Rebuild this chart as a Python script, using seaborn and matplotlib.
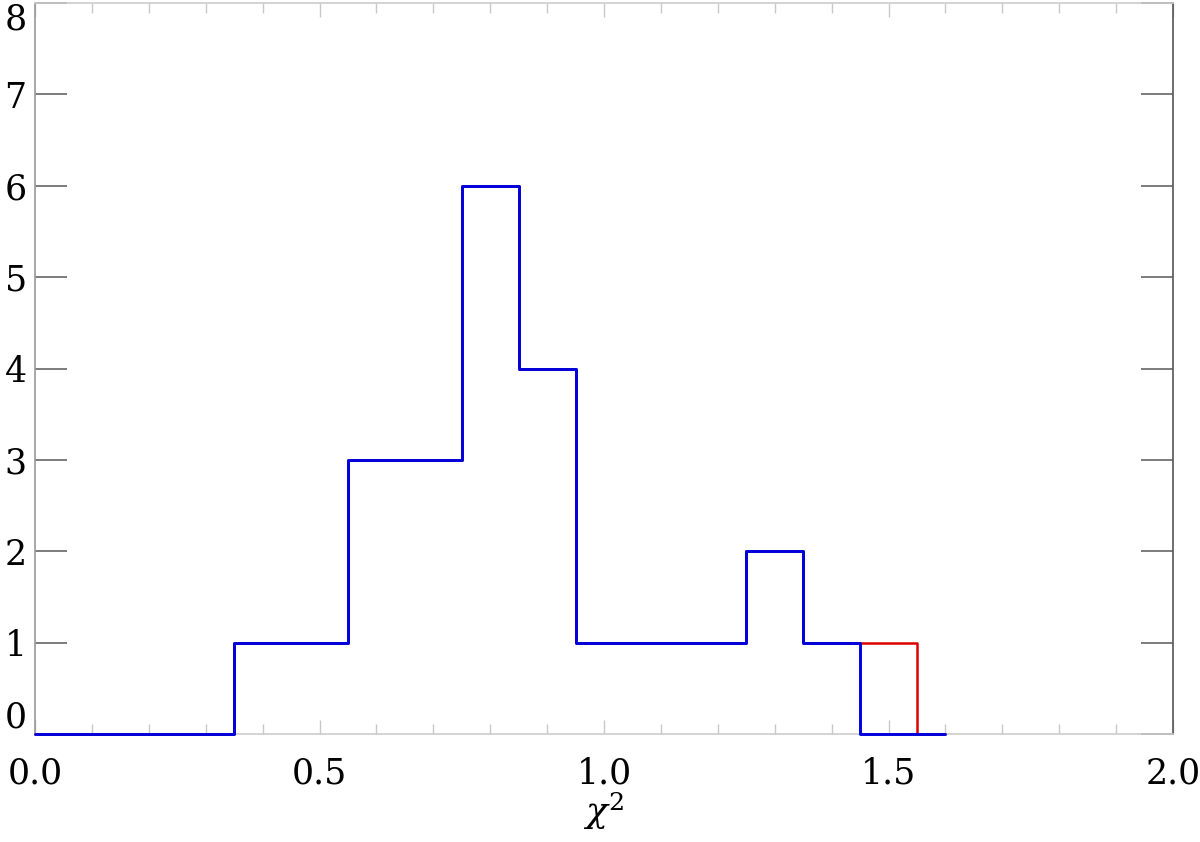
import numpy as np
import seaborn as sns
import matplotlib.pyplot as plt

# histogram values (bin centres every 0.1)
centers = [0.0, 0.1, 0.2, 0.3, 0.4, 0.5, 0.6, 0.7, 0.8, 0.9, 1.0, 1.1, 1.2, 1.3, 1.4, 1.5, 1.6]
counts_blue = [0, 0, 0, 0, 1, 1, 3, 3, 6, 4, 1, 1, 1, 2, 1, 0, 0]
counts_red = [0, 0, 0, 0, 1, 1, 3, 3, 6, 4, 1, 1, 1, 2, 1, 1, 0]
x_ticks = [0.0, 0.5, 1.0, 1.5, 2.0]
y_ticks = [0, 1, 2, 3, 4, 5, 6, 7, 8]
x_label = r'$\chi^2$'


def step_edges(c):
    # idl psym=10 style: half bins at both ends
    c = np.asarray(c, dtype=float)
    mids = (c[:-1] + c[1:]) / 2
    return np.concatenate([[c[0]], mids, [c[-1]]])


sns.set_theme(style='white')
plt.rcParams['font.family'] = ['DejaVu Serif', 'DejaVu Sans']
plt.rcParams['mathtext.fontset'] = 'dejavuserif'

fig = plt.figure(figsize=(12, 8.42), dpi=100)
ax = fig.add_axes([35 / 1200, 108 / 842, 1138 / 1200, 731 / 842])

# red first, blue drawn over it (slightly wider so no red fringe shows)
for counts, col, lw, z in [(counts_red, '#dd0000', 1.8, 5), (counts_blue, '#0000dd', 2.1, 6)]:
    xs = step_edges(centers)
    ys = list(counts) + [counts[-1]]
    sns.lineplot(x=xs, y=ys, drawstyle='steps-post', color=col, lw=lw,
                 estimator=None, sort=False, ax=ax, clip_on=False, zorder=z)

ax.set_xlim(0, 2)
ax.set_ylim(0, 8)
ax.set_xticks(x_ticks)
ax.set_xticklabels([f'{t:.1f}' for t in x_ticks])
ax.set_xticks(np.arange(0, 2.001, 0.1), minor=True)
ax.set_yticks(y_ticks)
ax.set_yticklabels([str(t) for t in y_ticks])

ax.tick_params(axis='x', which='major', direction='in', length=10, width=1,
               color='#c8c8c8', top=True, bottom=True, labelsize=25,
               labelcolor='black', pad=16)
ax.tick_params(axis='x', which='minor', direction='in', length=7, width=1,
               color='#c8c8c8', top=True, bottom=True)
ax.tick_params(axis='y', which='major', direction='in', length=23, width=1.2,
               color='#666666', left=True, right=True, labelsize=25,
               labelcolor='black', pad=6)

for lab in ax.get_yticklabels():
    if lab.get_text() == '8':
        lab.set_va('top')
    elif lab.get_text() == '0':
        lab.set_va('bottom')

ax.spines['left'].set_color('#999999')
ax.spines['right'].set_color('#555555')
ax.spines['top'].set_color('#cccccc')
ax.spines['bottom'].set_color('#cccccc')
for s in ax.spines.values():
    s.set_linewidth(1.2)

ax.set_xlabel(x_label, fontsize=26, color='black', labelpad=0)
ax.set_ylabel('')

fig.savefig('out.png', dpi=100)
